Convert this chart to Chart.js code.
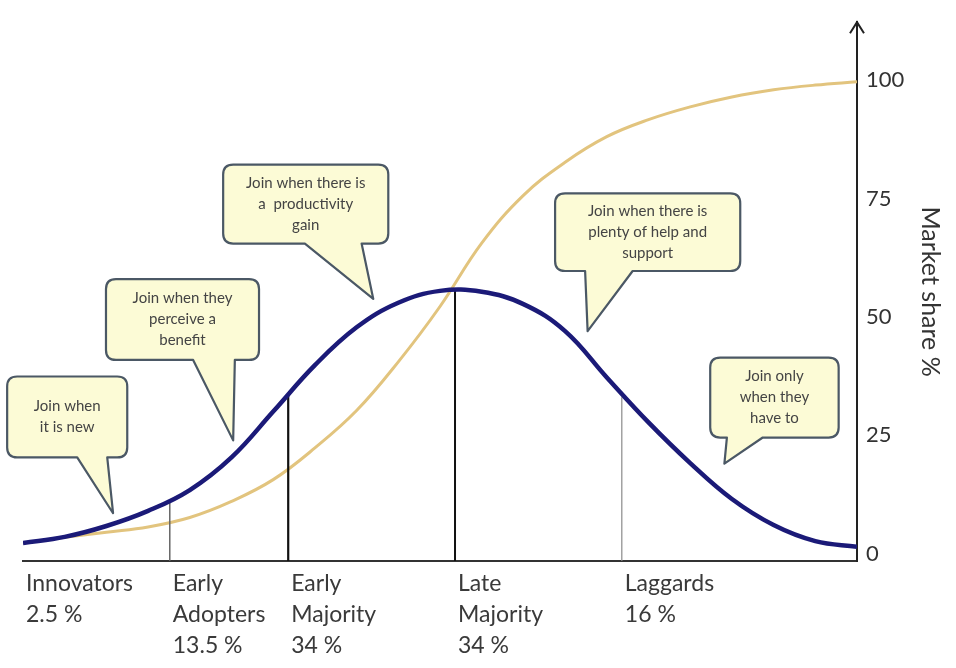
<!DOCTYPE html>
<html>
<head>
<meta charset="utf-8">
<title>Diffusion of innovations</title>
<script src="https://cdn.jsdelivr.net/npm/chart.js"></script>
<style>
  html, body { margin: 0; padding: 0; background: #fff; }
  #myChart { display: block; }
</style>
</head>
<body>
<canvas id="myChart" width="956" height="668"></canvas>
<script>
// x position along the curve (0 = left end, 100 = market share axis)
const xSteps = [0, 5, 10, 15, 20, 25, 30, 35, 40, 45, 50, 55, 60, 65, 70, 75, 80, 85, 90, 95, 100];

// bell curve (adopters per segment)
const adopters = [2.2, 3.5, 5.8, 9.0, 13.4, 20.3, 30.0, 39.8, 47.8, 53.0, 55.5, 55.3, 52.7, 47.0, 37.2, 27.7, 19.1, 11.5, 6.0, 2.6, 1.4];

// S-curve (cumulative market share %)
const marketShare = [2.2, 3.4, 4.5, 5.6, 7.6, 11.0, 15.6, 22.3, 30.2, 40.5, 52.2, 65.6, 75.7, 82.7, 88.1, 91.7, 94.4, 96.5, 98.0, 99.0, 99.7];

// segment boundaries and where their lines meet the bell curve
const boundaries = [17.6, 31.8, 51.8, 71.8];
const boundaryTops = [10.8, 33.8, 55.7, 33.0];

// labels under the axis (one tick per segment start)
const segmentStarts = [0, 17.6, 31.8, 51.8, 71.8];
const segmentLabels = [
    ['Innovators', '2.5 %'],
    ['Early', 'Adopters', '13.5 %'],
    ['Early', 'Majority', '34 %'],
    ['Late', 'Majority', '34 %'],
    ['Laggards', '16 %']
];

const yTicks = [0, 25, 50, 75, 100];

const Y_MIN = -1.6;
const Y_MAX = 112.3;

// speech bubbles, in data units: box corners, tail base (x1,x2) and tail tip
const callouts = [
    { lines: ['Join when', 'it is new'],
      box: [-1.9, 37.4, 12.5, 20.3], tail: [6.5, 10.1], tip: [10.8, 8.5] },
    { lines: ['Join when they', 'perceive a', 'benefit'],
      box: [9.95, 58.0, 28.3, 40.9], tail: [20.4, 25.4], tip: [25.2, 23.9] },
    { lines: ['Join when there is', 'a  productivity', 'gain'],
      box: [24.0, 82.2, 43.8, 65.5], tail: [33.8, 40.6], tip: [42.0, 53.8] },
    { lines: ['Join when there is', 'plenty of help and', 'support'],
      box: [63.8, 76.1, 86.0, 59.7], tail: [67.4, 73.1], tip: [67.7, 47.0] },
    { lines: ['Join only', 'when they', 'have to'],
      box: [82.4, 41.4, 97.8, 24.5], tail: [84.4, 88.7], tip: [84.1, 19.0] }
];

const boundaryColors = ['#666666', '#111111', '#111111', '#8a8a8a'];
const boundaryWidths = [1.5, 2.2, 2, 1.2];

// arrow head on top of the market share axis + the speech bubbles
const extrasPlugin = {
    id: 'extras',
    afterDraw(chart) {
        const ctx = chart.ctx;
        const xs = chart.scales.x;
        const ys = chart.scales.y;
        const area = chart.chartArea;

        // arrow
        ctx.save();
        ctx.strokeStyle = '#222';
        ctx.lineWidth = 2;
        ctx.beginPath();
        ctx.moveTo(area.right - 7, area.top + 11);
        ctx.lineTo(area.right, area.top);
        ctx.lineTo(area.right + 7, area.top + 11);
        ctx.stroke();
        ctx.restore();

        // bubbles
        callouts.forEach(c => {
            const l = xs.getPixelForValue(c.box[0]);
            const t = ys.getPixelForValue(c.box[1]);
            const r = xs.getPixelForValue(c.box[2]);
            const b = ys.getPixelForValue(c.box[3]);
            const t1 = xs.getPixelForValue(c.tail[0]);
            const t2 = xs.getPixelForValue(c.tail[1]);
            const tipX = xs.getPixelForValue(c.tip[0]);
            const tipY = ys.getPixelForValue(c.tip[1]);
            const rad = 10;

            ctx.save();
            ctx.beginPath();
            ctx.moveTo(l + rad, t);
            ctx.lineTo(r - rad, t);
            ctx.quadraticCurveTo(r, t, r, t + rad);
            ctx.lineTo(r, b - rad);
            ctx.quadraticCurveTo(r, b, r - rad, b);
            ctx.lineTo(t2, b);
            ctx.lineTo(tipX, tipY);
            ctx.lineTo(t1, b);
            ctx.lineTo(l + rad, b);
            ctx.quadraticCurveTo(l, b, l, b - rad);
            ctx.lineTo(l, t + rad);
            ctx.quadraticCurveTo(l, t, l + rad, t);
            ctx.closePath();
            ctx.fillStyle = '#fcfbd6';
            ctx.fill();
            ctx.lineWidth = 2.2;
            ctx.strokeStyle = '#4b5865';
            ctx.lineJoin = 'round';
            ctx.stroke();

            ctx.fillStyle = '#444';
            ctx.font = '15px Lato';
            ctx.textAlign = 'center';
            ctx.textBaseline = 'middle';
            const cx = (l + r) / 2;
            const cy = (t + b) / 2;
            const lh = 21;
            c.lines.forEach((line, i) => {
                ctx.fillText(line, cx, cy + (i - (c.lines.length - 1) / 2) * lh);
            });
            ctx.restore();
        });
    }
};

const datasets = [];

datasets.push({
    label: 'Market share',
    data: xSteps.map((x, i) => ({ x: x, y: marketShare[i] })),
    borderColor: '#e2c47e',
    borderWidth: 3,
    pointRadius: 0,
    tension: 0.4,
    order: 3
});

boundaries.forEach((b, i) => {
    datasets.push({
        label: 'Boundary ' + i,
        data: [{ x: b, y: Y_MIN }, { x: b, y: boundaryTops[i] }],
        borderColor: boundaryColors[i],
        borderWidth: boundaryWidths[i],
        pointRadius: 0,
        order: 2
    });
});

datasets.push({
    label: 'Adopters',
    data: xSteps.map((x, i) => ({ x: x, y: adopters[i] })),
    borderColor: '#1b1a78',
    borderWidth: 4.5,
    pointRadius: 0,
    tension: 0.4,
    order: 1
});

const config = {
    type: 'line',
    data: { datasets: datasets },
    options: {
        responsive: false,
        animation: false,
        devicePixelRatio: 1,
        layout: { padding: { left: 23, top: 20, right: 0, bottom: 0 } },
        plugins: {
            legend: { display: false },
            tooltip: { enabled: false }
        },
        scales: {
            x: {
                type: 'linear',
                min: 0,
                max: 100,
                grid: { display: false, drawTicks: false },
                border: { display: true, color: '#333', width: 2 },
                afterBuildTicks: (scale) => {
                    scale.ticks = segmentStarts.map(v => ({ value: v }));
                },
                afterFit: (scale) => { scale.height = 107; },
                ticks: {
                    autoSkip: false,
                    maxRotation: 0,
                    align: 'start',
                    labelOffset: 3,
                    padding: 7,
                    color: '#3a3a3a',
                    font: { family: 'Lato', size: 23, lineHeight: 1.35 },
                    callback: (value, index) => segmentLabels[index]
                }
            },
            y: {
                type: 'linear',
                position: 'right',
                min: Y_MIN,
                max: Y_MAX,
                grid: { display: false, drawTicks: false },
                border: { display: true, color: '#222', width: 2 },
                afterBuildTicks: (scale) => {
                    scale.ticks = yTicks.map(v => ({ value: v }));
                },
                afterFit: (scale) => { scale.width = 99; },
                ticks: {
                    padding: 9,
                    color: '#333',
                    font: { family: 'Lato', size: 22 },
                    callback: (value) => value
                },
                title: {
                    display: true,
                    text: 'Market share %',
                    color: '#333',
                    font: { family: 'Lato', size: 25 },
                    padding: { top: 11, bottom: 0 }
                }
            }
        }
    },
    plugins: [extrasPlugin]
};

const ctx = document.querySelector('#myChart').getContext('2d');
new Chart(ctx, config);
</script>
</body>
</html>
